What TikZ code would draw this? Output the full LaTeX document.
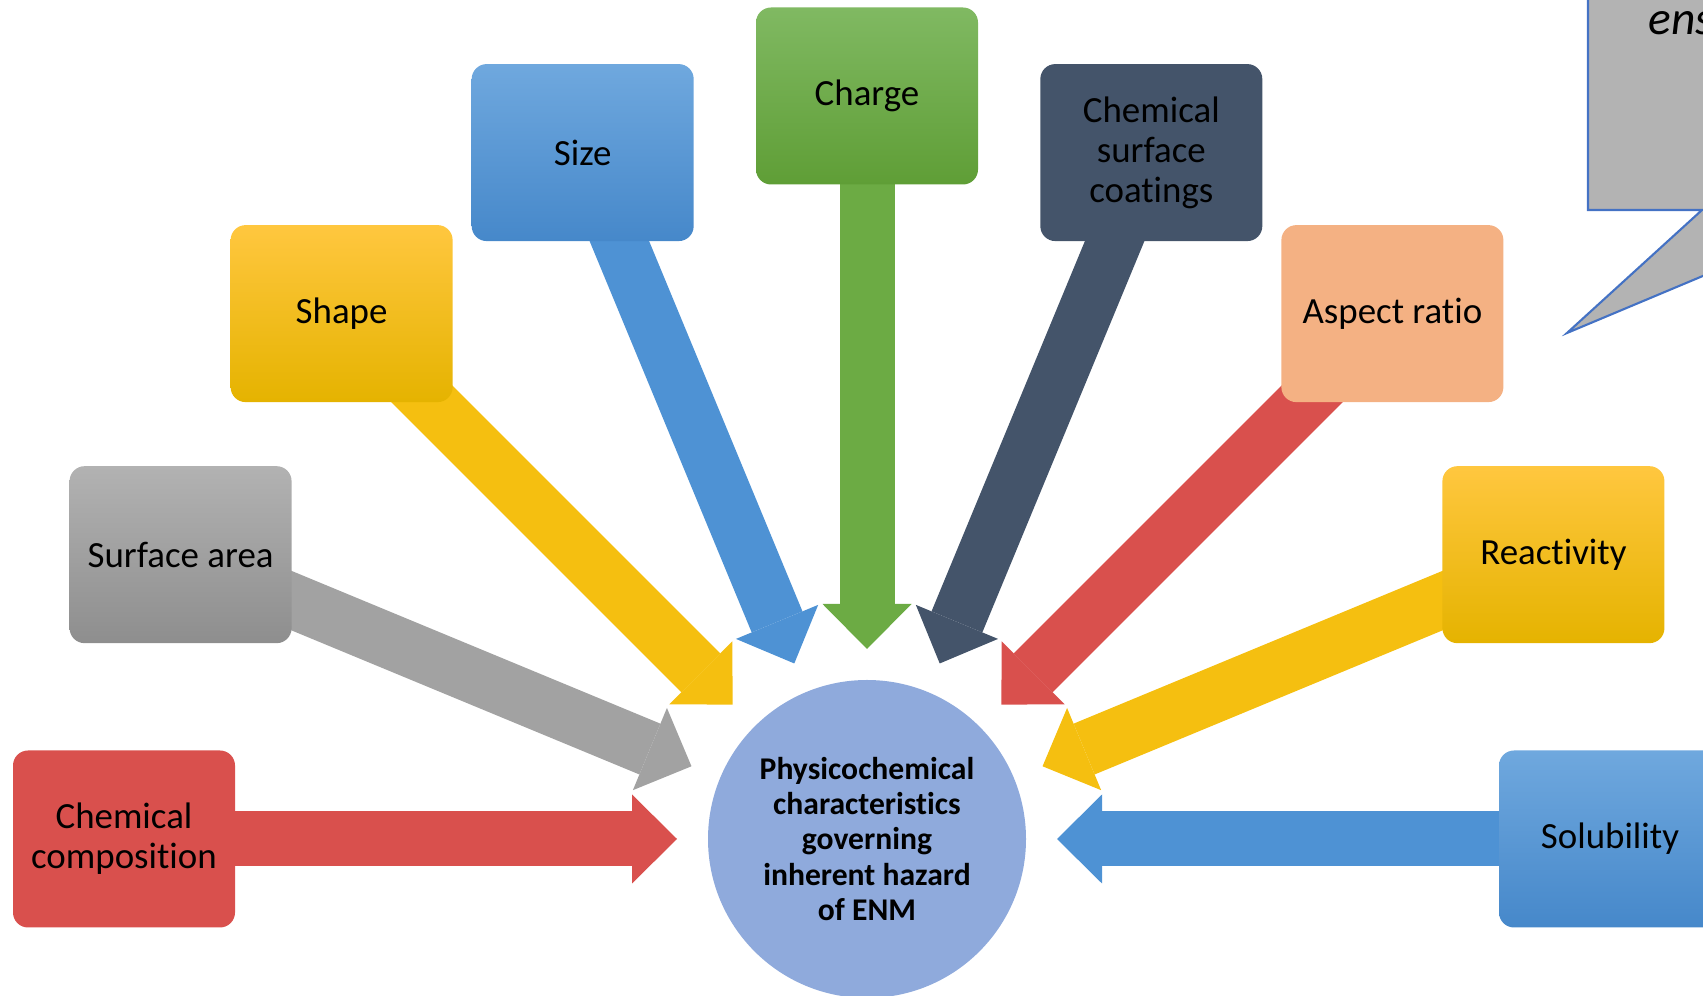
\documentclass[tikz,border=0pt]{standalone}
\usepackage{fontspec}
\setmainfont{Carlito}[Ligatures=NoCommon]
\usetikzlibrary{arrows.meta,calc,backgrounds}
\definecolor{hubblue}{HTML}{8FAADC}
\definecolor{redA}{HTML}{D9504D}
\definecolor{slateA}{HTML}{44546A}
\definecolor{peachA}{HTML}{F4B183}
\definecolor{goldT}{HTML}{FFC73F}
\definecolor{goldB}{HTML}{E5B300}
\definecolor{goldA}{HTML}{F5BF10}
\definecolor{blueT}{HTML}{6FA8DE}
\definecolor{blueB}{HTML}{4688CA}
\definecolor{blueA}{HTML}{4E92D4}
\definecolor{greenT}{HTML}{80B962}
\definecolor{greenB}{HTML}{5F9E36}
\definecolor{greenA}{HTML}{6CAB44}
\definecolor{grayT}{HTML}{B2B2B2}
\definecolor{grayB}{HTML}{8E8E8E}
\definecolor{grayA}{HTML}{A2A2A2}
\definecolor{callgray}{HTML}{B3B3B3}
\definecolor{callblue}{HTML}{4472C4}
\tikzset{
    %Define style for boxes
    plain/.style={
           rectangle,
           rounded corners=0.15cm,
           minimum width=2.22cm,
           minimum height=1.77cm,
           align=center,
           font=\fontsize{10.5}{11.4}\selectfont},
    % Box colours
    redbox/.style={fill=redA},
    slatebox/.style={fill=slateA, text=black},
    peachbox/.style={fill=peachA},
    goldbox/.style={top color=goldT, bottom color=goldB},
    bluebox/.style={top color=blueT, bottom color=blueB},
    greenbox/.style={top color=greenT, bottom color=greenB},
    graybox/.style={top color=grayT, bottom color=grayB},
    % Define block arrow style
    pil/.style={
           line width=0.55cm,
           -{Triangle[length=0.45cm, width=0.89cm, line width=0pt]}}
}

\begin{document}
\begin{tikzpicture}
        \useasboundingbox (0,0) rectangle (17.03,9.96);
        \clip (0,0) rectangle (17.03,9.96);

        % hub node
        \node[circle, fill=hubblue, minimum size=3.18cm, align=center,
        font=\bfseries\fontsize{9}{10}\selectfont]
        (hub)
        at (8.67,1.57)
        {Physicochemical\\characteristics\\governing\\inherent hazard\\of ENM}
        ;

        % arrow tips on the hub
        \coordinate (t-comp) at ($(hub)+(180:1.9)$);
        \coordinate (t-area) at ($(hub)+(157.5:1.9)$);
        \coordinate (t-shape) at ($(hub)+(135:1.9)$);
        \coordinate (t-size) at ($(hub)+(112.5:1.9)$);
        \coordinate (t-charge) at ($(hub)+(90:1.9)$);
        \coordinate (t-coat) at ($(hub)+(67.5:1.9)$);
        \coordinate (t-aspect) at ($(hub)+(45:1.9)$);
        \coordinate (t-react) at ($(hub)+(22.5:1.9)$);
        \coordinate (t-solub) at ($(hub)+(0:1.9)$);

        % Chemical composition node
        \node[plain, redbox]
        (comp)
        at ($(hub)+(180:7.43)$)
        {Chemical\\composition}
        ;

        % Surface area node
        \node[plain, graybox]
        (area)
        at ($(hub)+(157.5:7.43)$)
        {Surface area}
        ;

        % Shape node
        \node[plain, goldbox]
        (shape)
        at ($(hub)+(135:7.43)$)
        {Shape}
        ;

        % Size node
        \node[plain, bluebox]
        (size)
        at ($(hub)+(112.5:7.43)$)
        {Size}
        ;

        % Charge node
        \node[plain, greenbox]
        (charge)
        at ($(hub)+(90:7.43)$)
        {Charge}
        ;

        % Chemical surface coatings node
        \node[plain, slatebox]
        (coat)
        at ($(hub)+(67.5:7.43)$)
        {Chemical\\surface\\coatings}
        ;

        % Aspect ratio node
        \node[plain, peachbox]
        (aspect)
        at ($(hub)+(45:7.43)$)
        {Aspect ratio}
        ;

        % Reactivity node
        \node[plain, goldbox]
        (react)
        at ($(hub)+(22.5:7.43)$)
        {Reactivity}
        ;

        % Solubility node
        \node[plain, bluebox]
        (solub)
        at ($(hub)+(0:7.43)$)
        {Solubility}
        ;

        % block arrows behind the boxes
        \begin{scope}[on background layer]
        \draw[pil, redA] (comp.center) -- (t-comp);
        \draw[pil, grayA] (area.center) -- (t-area);
        \draw[pil, goldA] (shape.center) -- (t-shape);
        \draw[pil, blueA] (size.center) -- (t-size);
        \draw[pil, greenA] (charge.center) -- (t-charge);
        \draw[pil, slateA] (coat.center) -- (t-coat);
        \draw[pil, redA] (aspect.center) -- (t-aspect);
        \draw[pil, goldA] (react.center) -- (t-react);
        \draw[pil, blueA] (solub.center) -- (t-solub);
        \end{scope}

        % callout in the corner
        \coordinate (c-tip) at (15.67,6.63);
        \filldraw[fill=callgray, draw=callblue, line width=0.6pt]
        (15.88,10.2) -- (15.88,7.86) -- (17.02,7.86) -- (c-tip)
        -- (17.6,7.44) -- (17.6,10.2) -- cycle
        ;
        \node[anchor=base west, inner sep=0pt,
        font=\itshape\fontsize{13.5}{15}\selectfont]
        (note)
        at (16.48,9.61)
        {ens}
        ;

\end{tikzpicture}
\end{document}
